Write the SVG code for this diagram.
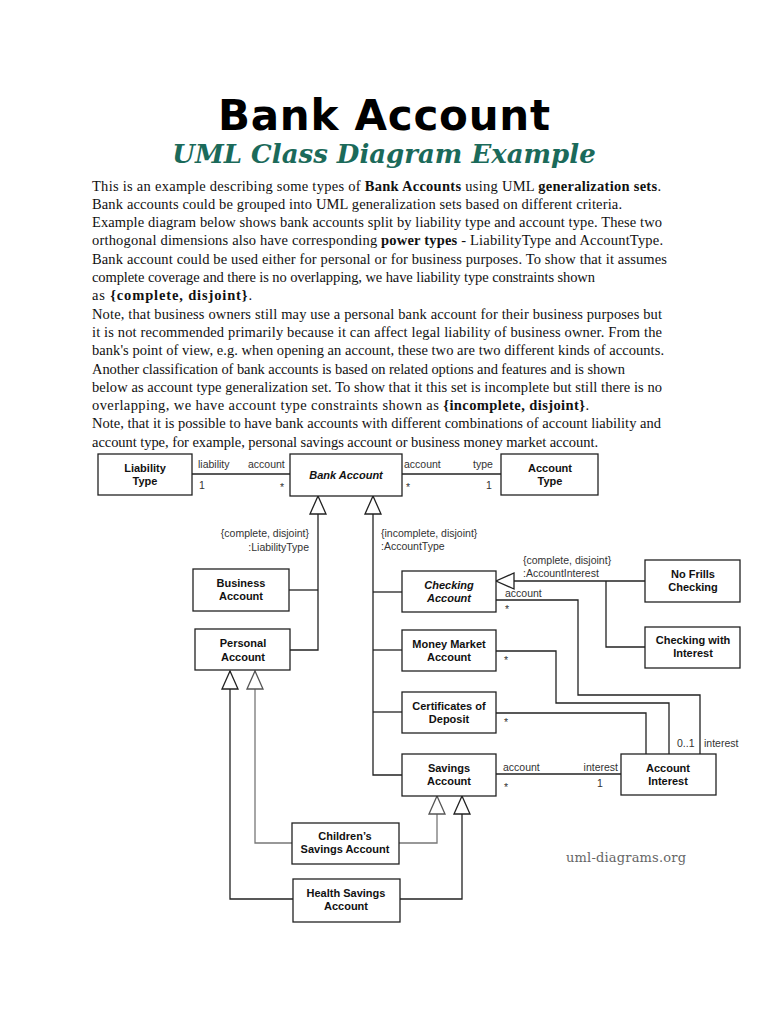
<svg xmlns="http://www.w3.org/2000/svg" width="768" height="1024" viewBox="0 0 768 1024">
<style>
.title{font-family:"DejaVu Sans",sans-serif;font-weight:bold;font-size:42px;fill:#000}
.sub{font-family:"DejaVu Serif",serif;font-weight:bold;font-style:italic;font-size:26px;fill:#1b6a5a}
.body{font-family:"Liberation Serif",serif;font-size:14.5px;fill:#111}
.b{font-weight:bold}
.box{fill:#fff;stroke:#222;stroke-width:1.3}
.cn{font-family:"Liberation Sans",Arial,sans-serif;font-weight:bold;font-size:11px;fill:#111;text-anchor:middle}
.it{font-style:italic}
.lbl{font-family:"Liberation Sans",Arial,sans-serif;font-size:10.5px;fill:#333}
.ln{fill:none;stroke:#222;stroke-width:1.3}
.gl{fill:none;stroke:#777;stroke-width:1.3}
.wm{font-family:"DejaVu Serif",serif;font-size:13px;fill:#666}
</style>
<defs>
<marker id="gen" markerUnits="userSpaceOnUse" viewBox="0 0 20 18" refX="19" refY="9" markerWidth="20" markerHeight="18" orient="auto">
<path d="M1,1 L19,9 L1,17 Z" fill="#fff" stroke="#222" stroke-width="1.3"/>
</marker>
<marker id="geng" markerUnits="userSpaceOnUse" viewBox="0 0 20 18" refX="19" refY="9" markerWidth="20" markerHeight="18" orient="auto">
<path d="M1,1 L19,9 L1,17 Z" fill="#fff" stroke="#555" stroke-width="1.3"/>
</marker>
</defs>
<rect width="768" height="1024" fill="#fff"/>
<text class="title" x="384" y="130" text-anchor="middle" textLength="332">Bank Account</text>
<text class="sub" x="384" y="163" text-anchor="middle">UML Class Diagram Example</text>
<g id="description">
<text class="body" x="92" y="190.5" textLength="569">This is an example describing some types of <tspan class="b">Bank Accounts</tspan> using UML <tspan class="b">generalization sets</tspan>.</text>
<text class="body" x="92" y="208.8" textLength="530">Bank accounts could be grouped into UML generalization sets based on different criteria.</text>
<text class="body" x="92" y="227.1" textLength="570">Example diagram below shows bank accounts split by liability type and account type. These two</text>
<text class="body" x="92" y="245.4" textLength="571">orthogonal dimensions also have corresponding <tspan class="b">power types</tspan> - LiabilityType and AccountType.</text>
<text class="body" x="92" y="263.7" textLength="575">Bank account could be used either for personal or for business purposes. To show that it assumes</text>
<text class="body" x="92" y="282" textLength="503">complete coverage and there is no overlapping, we have liability type constraints shown</text>
<text class="body" x="92" y="300.3" textLength="160">as <tspan class="b">{complete, disjoint}</tspan>.</text>
<text class="body" x="92" y="318.6" textLength="570">Note, that business owners still may use a personal bank account for their business purposes but</text>
<text class="body" x="92" y="336.9" textLength="570">it is not recommended primarily because it can affect legal liability of business owner. From the</text>
<text class="body" x="92" y="355.2" textLength="572">bank's point of view, e.g. when opening an account, these two are two different kinds of accounts.</text>
<text class="body" x="92" y="373.5" textLength="533">Another classification of bank accounts is based on related options and features and is shown</text>
<text class="body" x="92" y="391.8" textLength="570">below as account type generalization set. To show that it this set is incomplete but still there is no</text>
<text class="body" x="92" y="410.1" textLength="497">overlapping, we have account type constraints shown as <tspan class="b">{incomplete, disjoint}</tspan>.</text>
<text class="body" x="92" y="428.4" textLength="569">Note, that it is possible to have bank accounts with different combinations of account liability and</text>
<text class="body" x="92" y="446.7" textLength="506">account type, for example, personal savings account or business money market account.</text>
</g>
<g id="connectors">
<path class="ln" d="M192,474 H290"/>
<path class="ln" d="M402,474 H501"/>
<path class="ln" d="M289,590 H318"/>
<path class="ln" d="M290,650 H318 V496" marker-end="url(#gen)"/>
<path class="ln" d="M402,592 H373"/>
<path class="ln" d="M402,650 H373"/>
<path class="ln" d="M402,712 H373"/>
<path class="ln" d="M402,775 H373 V496" marker-end="url(#gen)"/>
<path class="ln" d="M646,581 H496" marker-end="url(#gen)"/>
<path class="ln" d="M646,647 H606 V581"/>
<path class="ln" d="M496,600 H578 V695 H700 V754"/>
<path class="ln" d="M496,651 H556 V703 H669 V754"/>
<path class="ln" d="M496,713 H646 V754"/>
<path class="ln" d="M496,774 H621"/>
<path class="gl" d="M292,843 H255 V671" marker-end="url(#geng)"/>
<path class="gl" d="M399,843 H437 V796" marker-end="url(#geng)"/>
<path class="ln" d="M293,899 H230 V671" marker-end="url(#gen)"/>
<path class="ln" d="M400,899 H462 V796" marker-end="url(#gen)"/>
<text class="lbl" x="198" y="468">liability</text>
<text class="lbl" x="248" y="468">account</text>
<text class="lbl" x="199" y="489">1</text>
<text class="lbl" x="280" y="491">*</text>
<text class="lbl" x="404" y="468">account</text>
<text class="lbl" x="473" y="468">type</text>
<text class="lbl" x="406" y="491">*</text>
<text class="lbl" x="486" y="489">1</text>
<text class="lbl" x="309" y="537" text-anchor="end">{complete, disjoint}</text>
<text class="lbl" x="309" y="551" text-anchor="end">:LiabilityType</text>
<text class="lbl" x="381" y="537">{incomplete, disjoint}</text>
<text class="lbl" x="381" y="550">:AccountType</text>
<text class="lbl" x="523" y="564">{complete, disjoint}</text>
<text class="lbl" x="523" y="577">:AccountInterest</text>
<text class="lbl" x="505" y="597">account</text>
<text class="lbl" x="505" y="613">*</text>
<text class="lbl" x="504" y="664">*</text>
<text class="lbl" x="504" y="726">*</text>
<text class="lbl" x="503" y="771">account</text>
<text class="lbl" x="618" y="771" text-anchor="end">interest</text>
<text class="lbl" x="504" y="791">*</text>
<text class="lbl" x="597" y="787">1</text>
<text class="lbl" x="677" y="747">0..1</text>
<text class="lbl" x="704" y="747">interest</text>
</g>
<g id="liability-type"><rect class="box" x="98" y="454" width="94" height="41"/><text class="cn" x="145" y="472">Liability</text><text class="cn" x="145" y="485">Type</text></g>
<g id="bank-account"><rect class="box" x="290" y="454" width="112" height="42"/><text class="cn it" x="346" y="479">Bank Account</text></g>
<g id="account-type"><rect class="box" x="501" y="454" width="97" height="41"/><text class="cn" x="550" y="472">Account</text><text class="cn" x="550" y="485">Type</text></g>
<g id="business-account"><rect class="box" x="193" y="569" width="96" height="42"/><text class="cn" x="241" y="587">Business</text><text class="cn" x="241" y="600">Account</text></g>
<g id="personal-account"><rect class="box" x="195" y="629" width="95" height="41"/><text class="cn" x="243" y="647">Personal</text><text class="cn" x="243" y="661">Account</text></g>
<g id="checking-account"><rect class="box" x="402" y="571" width="94" height="41"/><text class="cn it" x="449" y="589">Checking</text><text class="cn it" x="449" y="602">Account</text></g>
<g id="money-market-account"><rect class="box" x="402" y="630" width="94" height="41"/><text class="cn" x="449" y="648">Money Market</text><text class="cn" x="449" y="661">Account</text></g>
<g id="certificates-of-deposit"><rect class="box" x="402" y="692" width="94" height="41"/><text class="cn" x="449" y="710">Certificates of</text><text class="cn" x="449" y="723">Deposit</text></g>
<g id="savings-account"><rect class="box" x="402" y="754" width="94" height="42"/><text class="cn" x="449" y="772">Savings</text><text class="cn" x="449" y="785">Account</text></g>
<g id="no-frills-checking"><rect class="box" x="645" y="560" width="95" height="42"/><text class="cn" x="693" y="578">No Frills</text><text class="cn" x="693" y="591">Checking</text></g>
<g id="checking-with-interest"><rect class="box" x="645" y="627" width="95" height="41"/><text class="cn" x="693" y="644">Checking with</text><text class="cn" x="693" y="657">Interest</text></g>
<g id="account-interest"><rect class="box" x="621" y="754" width="95" height="41"/><text class="cn" x="668" y="772">Account</text><text class="cn" x="668" y="785">Interest</text></g>
<g id="childrens-savings-account"><rect class="box" x="292" y="823" width="107" height="41"/><text class="cn" x="345" y="840">Children’s</text><text class="cn" x="345" y="853">Savings Account</text></g>
<g id="health-savings-account"><rect class="box" x="293" y="879" width="107" height="43"/><text class="cn" x="346" y="897">Health Savings</text><text class="cn" x="346" y="910">Account</text></g>
<text class="wm" x="566" y="862" textLength="120">uml-diagrams.org</text>
</svg>
